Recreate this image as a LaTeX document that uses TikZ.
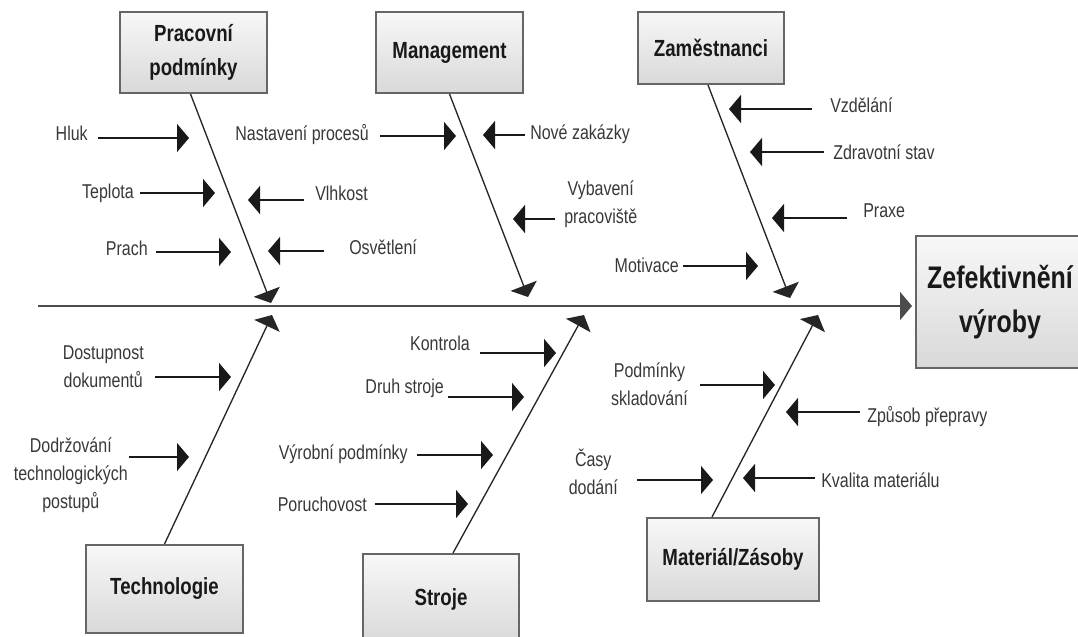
\documentclass[tikz,border=0pt]{standalone}
\usepackage{fontspec}
\setmainfont{Liberation Sans}[FakeStretch=0.8]
\usetikzlibrary{arrows.meta,calc}

\begin{document}
\begin{tikzpicture}[x=0.75pt,y=0.75pt,yscale=-1,xscale=1,
  catbox/.style={draw=black!60, line width=1.5pt, top color=black!3, bottom color=black!15,
    font=\fontsize{17.5}{26}\selectfont\bfseries, text=black!90, align=center},
  cause/.style={inner sep=0.75pt, font=\fontsize{15}{21}\selectfont, text=black!78, align=center},
  causearrow/.style={line width=1.1pt, black!90, -{Triangle[length=9pt,width=21pt]}},
  bone/.style={line width=1pt, black!85, -{Triangle[length=9pt,width=21pt]}},
  spine/.style={line width=1.5pt, black!70, -{Triangle[length=9pt,width=21pt]}}
]
\useasboundingbox (0,0) rectangle (1078,636);
\clip (0,0) rectangle (1078,636);

%Category boxes
\node[catbox, minimum width=110.25pt, minimum height=60.75pt] (prac) at (193.5,52.5) {Pracovní\\podmínky};
\node[catbox, minimum width=110.25pt, minimum height=60.75pt] (mgmt) at (449.5,52.5) {Management};
\node[catbox, minimum width=109.5pt, minimum height=54pt] (zam) at (711,48) {Zaměstnanci};
\node[catbox, minimum width=117.75pt, minimum height=66pt] (tech) at (164.5,589) {Technologie};
\node[catbox, minimum width=117pt, minimum height=67.5pt] (stroj) at (441,599) {Stroje};
\node[catbox, minimum width=129pt, minimum height=62.25pt] (mat) at (733,559.5) {Materiál/Zásoby};
%Effect box
\node[catbox, minimum width=126pt, minimum height=99pt, font=\fontsize{23.4}{33}\selectfont\bfseries] (zef) at (1000,302) {Zefektivnění\\výroby};

%Spine
\coordinate (spineL) at (38,306);
\draw[spine] (spineL) -- ($(spineL -| zef.west)+(-3,0)$);

%Bone tips
\coordinate (pracT) at (271,303);
\coordinate (mgmtT) at (528,297);
\coordinate (zamT) at (790,298);
\coordinate (techT) at (272,315);
\coordinate (strojT) at (584,315);
\coordinate (matT) at (818,315);

%Bones
\draw[bone] ($(prac.south)+(-3,0)$) -- (pracT);
\draw[bone] (mgmt.south) -- (mgmtT);
\draw[bone] ($(zam.south)+(-3,0)$) -- (zamT);
\draw[bone] (tech.north) -- (techT);
\draw[bone] ($(stroj.north)+(12,0)$) -- (strojT);
\draw[bone] ($(mat.north)+(-21,0)$) -- (matT);

% Text Node
\node[cause, anchor=east] (hluk) at (89,133) {Hluk};
\node[cause, anchor=east] (tepl) at (135,193) {Teplota};
\node[cause, anchor=east] (prach) at (149,248) {Prach};
\node[cause, anchor=west] (vlhk) at (314,193) {Vlhkost};
\node[cause, anchor=west] (osvet) at (348,247) {Osvětlení};
\node[cause, anchor=east] (nastav) at (370,135) {Nastavení procesů};
\node[cause, anchor=west] (nove) at (529,134) {Nové zakázky};
\node[cause, anchor=west] (vybav) at (563,204.5) {Vybavení\\pracoviště};
\node[cause, anchor=west] (vzdel) at (829,105) {Vzdělání};
\node[cause, anchor=west] (zdrav) at (832,152) {Zdravotní stav};
\node[cause, anchor=west] (praxe) at (862,211) {Praxe};
\node[cause, anchor=east] (motiv) at (680,265) {Motivace};
\node[cause, anchor=east] (dostup) at (145,367) {Dostupnost\\dokumentů};
\node[cause, anchor=east] (dodrz) at (129,475) {Dodržování\\technologických\\postupů};
\node[cause, anchor=east] (kontr) at (471,343) {Kontrola};
\node[cause, anchor=east] (druh) at (445,388) {Druh stroje};
\node[cause, anchor=east] (vyrob) at (409,454) {Výrobní podmínky};
\node[cause, anchor=east] (poruch) at (368,504) {Poruchovost};
\node[cause, anchor=east] (podm) at (689,384.5) {Podmínky\\skladování};
\node[cause, anchor=west] (zpus) at (866,417) {Způsob přepravy};
\node[cause, anchor=east] (casy) at (619,471.5) {Časy\\dodání};
\node[cause, anchor=west] (kval) at (820,480) {Kvalita materiálu};

%Cause tips
\coordinate (hlukT) at (189,138);
\coordinate (teplT) at (215,193);
\coordinate (prachT) at (231,252);
\coordinate (vlhkT) at (248,200);
\coordinate (osvetT) at (268,251);
\coordinate (nastavT) at (456,136);
\coordinate (noveT) at (483,135);
\coordinate (vybavT) at (513,219);
\coordinate (vzdelT) at (729,109);
\coordinate (zdravT) at (750,152);
\coordinate (praxeT) at (772,218);
\coordinate (motivT) at (758,266);
\coordinate (dostupT) at (231,377);
\coordinate (dodrzT) at (189,457);
\coordinate (kontrT) at (556,353);
\coordinate (druhT) at (524,397);
\coordinate (vyrobT) at (493,455);
\coordinate (poruchT) at (468,504);
\coordinate (podmT) at (775,385);
\coordinate (zpusT) at (786,412);
\coordinate (casyT) at (713,480);
\coordinate (kvalT) at (743,478);

%Straight Lines
\draw[causearrow] ($(hluk.east |- hlukT)+(9,0)$) -- (hlukT);
\draw[causearrow] ($(tepl.east |- teplT)+(5,0)$) -- (teplT);
\draw[causearrow] ($(prach.east |- prachT)+(7,0)$) -- (prachT);
\draw[causearrow] ($(vlhk.west |- vlhkT)+(-10,0)$) -- (vlhkT);
\draw[causearrow] ($(osvet.west |- osvetT)+(-24,0)$) -- (osvetT);
\draw[causearrow] ($(nastav.east |- nastavT)+(10,0)$) -- (nastavT);
\draw[causearrow] ($(nove.west |- noveT)+(-4,0)$) -- (noveT);
\draw[causearrow] ($(vybav.west |- vybavT)+(-8,0)$) -- (vybavT);
\draw[causearrow] ($(vzdel.west |- vzdelT)+(-17,0)$) -- (vzdelT);
\draw[causearrow] ($(zdrav.west |- zdravT)+(-8,0)$) -- (zdravT);
\draw[causearrow] ($(praxe.west |- praxeT)+(-15,0)$) -- (praxeT);
\draw[causearrow] ($(motiv.east |- motivT)+(3,0)$) -- (motivT);
\draw[causearrow] ($(dostup.east |- dostupT)+(10,0)$) -- (dostupT);
\draw[causearrow] (dodrz.east |- dodrzT) -- (dodrzT);
\draw[causearrow] ($(kontr.east |- kontrT)+(9,0)$) -- (kontrT);
\draw[causearrow] ($(druh.east |- druhT)+(3,0)$) -- (druhT);
\draw[causearrow] ($(vyrob.east |- vyrobT)+(8,0)$) -- (vyrobT);
\draw[causearrow] ($(poruch.east |- poruchT)+(7,0)$) -- (poruchT);
\draw[causearrow] ($(podm.east |- podmT)+(11,0)$) -- (podmT);
\draw[causearrow] ($(zpus.west |- zpusT)+(-6,0)$) -- (zpusT);
\draw[causearrow] ($(casy.east |- casyT)+(18,0)$) -- (casyT);
\draw[causearrow] ($(kval.west |- kvalT)+(-5,0)$) -- (kvalT);

\end{tikzpicture}
\end{document}
